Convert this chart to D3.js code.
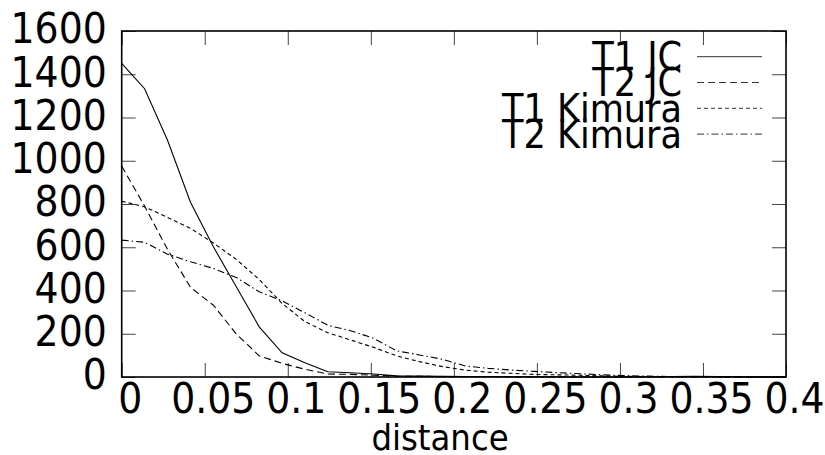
<!DOCTYPE html>
<html>
<head>
<meta charset="utf-8">
<script src="https://cdn.jsdelivr.net/npm/d3@7"></script>
<style>
  body { margin: 0; background: #fff; }
  svg text { font-family: "DejaVu Sans Condensed", "DejaVu Sans", sans-serif; font-stretch: condensed; fill: #000; }
</style>
</head>
<body>
<svg width="825" height="455"></svg>
<script>
// distance bins (30 samples over 0..0.4)
var distance = [0, 0.0138, 0.0276, 0.0414, 0.0552, 0.069, 0.0828, 0.0966, 0.1103, 0.1241,
  0.1379, 0.1517, 0.1655, 0.1793, 0.1931, 0.2069, 0.2207, 0.2345, 0.2483, 0.2621,
  0.2759, 0.2897, 0.3034, 0.3172, 0.331, 0.3448, 0.3586, 0.3724, 0.3862, 0.4];

var t1JC = [1450, 1333, 1095, 808, 602, 417, 232, 112, 66, 24, 20, 14, 5, 4, 3, 2, 2, 1, 1, 1,
  0, 0, 0, 1, 2, 3, 2, 1, 0, 2];
var t2JC = [975, 790, 590, 415, 332, 199, 98, 63, 36, 14, 12, 8, 4, 3, 2, 1, 1, 1, 0, 0,
  0, 0, 0, 0, 0, 0, 0, 0, 0, 0];
var t1Kimura = [813, 787, 738, 687, 620, 544, 451, 340, 256, 205, 171, 137, 98, 71, 48, 32, 22, 17, 12, 10,
  8, 5, 3, 2, 2, 1, 1, 0, 0, 0];
var t2Kimura = [633, 623, 568, 533, 502, 460, 394, 352, 297, 239, 214, 179, 121, 102, 82, 51, 40, 32, 26, 20,
  15, 10, 6, 4, 2, 1, 1, 0, 0, 0];

var seriesNames = ['T1 JC', 'T2 JC', 'T1 Kimura', 'T2 Kimura'];
var seriesValues = [t1JC, t2JC, t1Kimura, t2Kimura];
var dashes = [null, '7,4', '4,3', '7,3,1.5,3'];

var xTicks = [0, 0.05, 0.1, 0.15, 0.2, 0.25, 0.3, 0.35, 0.4];
var xTickLabels = ['0', '0.05', '0.1', '0.15', '0.2', '0.25', '0.3', '0.35', '0.4'];
var yTicks = [0, 200, 400, 600, 800, 1000, 1200, 1400, 1600];

var mLeft = 121.7, mTop = 31, mRight = 786, mBottom = 377;
var tickFs = 42, legendFs = 39, titleFs = 36;

var svg = d3.select('svg');

var x = d3.scaleLinear().domain([0, 0.4]).range([mLeft, mRight]);
var y = d3.scaleLinear().domain([0, 1600]).range([mBottom, mTop]);

/* ----------- AXES ----------- */

var xAxis = svg.append('g')
    .attr('transform', 'translate(0,' + mBottom + ')')
    .call(d3.axisBottom(x).tickValues(xTicks).tickSize(-14).tickPadding(6)
      .tickFormat(function (d, i) { return xTickLabels[i]; }));
xAxis.select('.domain').remove();
xAxis.selectAll('text').attr('dx', 8).style('font-size', tickFs + 'px');

var yAxis = svg.append('g')
    .attr('transform', 'translate(' + mLeft + ',0)')
    .call(d3.axisLeft(y).tickValues(yTicks).tickSize(-14).tickPadding(15)
      .tickFormat(function (d) { return d; }));
yAxis.select('.domain').remove();
yAxis.selectAll('text').attr('dy', '0.28em').style('font-size', tickFs + 'px');

// mirrored ticks on top and right
var topAxis = svg.append('g')
    .attr('transform', 'translate(0,' + mTop + ')')
    .call(d3.axisTop(x).tickValues(xTicks).tickSize(-14).tickFormat(''));
topAxis.select('.domain').remove();

var rightAxis = svg.append('g')
    .attr('transform', 'translate(' + mRight + ',0)')
    .call(d3.axisRight(y).tickValues(yTicks).tickSize(-14).tickFormat(''));
rightAxis.select('.domain').remove();

svg.selectAll('.tick line').attr('stroke', '#444').attr('stroke-width', 1);

/* ----------- LINES ----------- */

var line = d3.line()
    .x(function (d, i) { return x(distance[i]); })
    .y(function (d) { return y(d); });

svg.selectAll('path.series')
    .data(seriesValues)
    .enter()
    .append('path')
    .attr('class', 'series')
    .attr('fill', 'none')
    .attr('stroke', '#000')
    .attr('stroke-width', 1.1)
    .attr('stroke-dasharray', function (d, i) { return dashes[i]; })
    .attr('d', line);

// border
svg.append('rect')
    .attr('x', mLeft).attr('y', mTop)
    .attr('width', mRight - mLeft).attr('height', mBottom - mTop)
    .attr('fill', 'none').attr('stroke', '#000').attr('stroke-width', 1.6);

/* ----------- LEGEND ----------- */

var legend = svg.selectAll('g.legend')
    .data(seriesNames)
    .enter()
    .append('g')
    .attr('class', 'legend')
    .attr('transform', function (d, i) { return 'translate(0,' + (56.7 + i * 25.8) + ')'; });

legend.append('text')
    .attr('x', 682).attr('y', 13.5)
    .attr('text-anchor', 'end')
    .style('font-size', legendFs + 'px')
    .text(function (d) { return d; });

legend.append('line')
    .attr('x1', 697).attr('x2', 762)
    .attr('stroke', '#333')
    .attr('stroke-width', 1)
    .attr('stroke-dasharray', function (d, i) { return dashes[i]; });

svg.append('text')
    .attr('x', 440).attr('y', 450)
    .attr('text-anchor', 'middle')
    .style('font-size', titleFs + 'px')
    .text('distance');
</script>
</body>
</html>
